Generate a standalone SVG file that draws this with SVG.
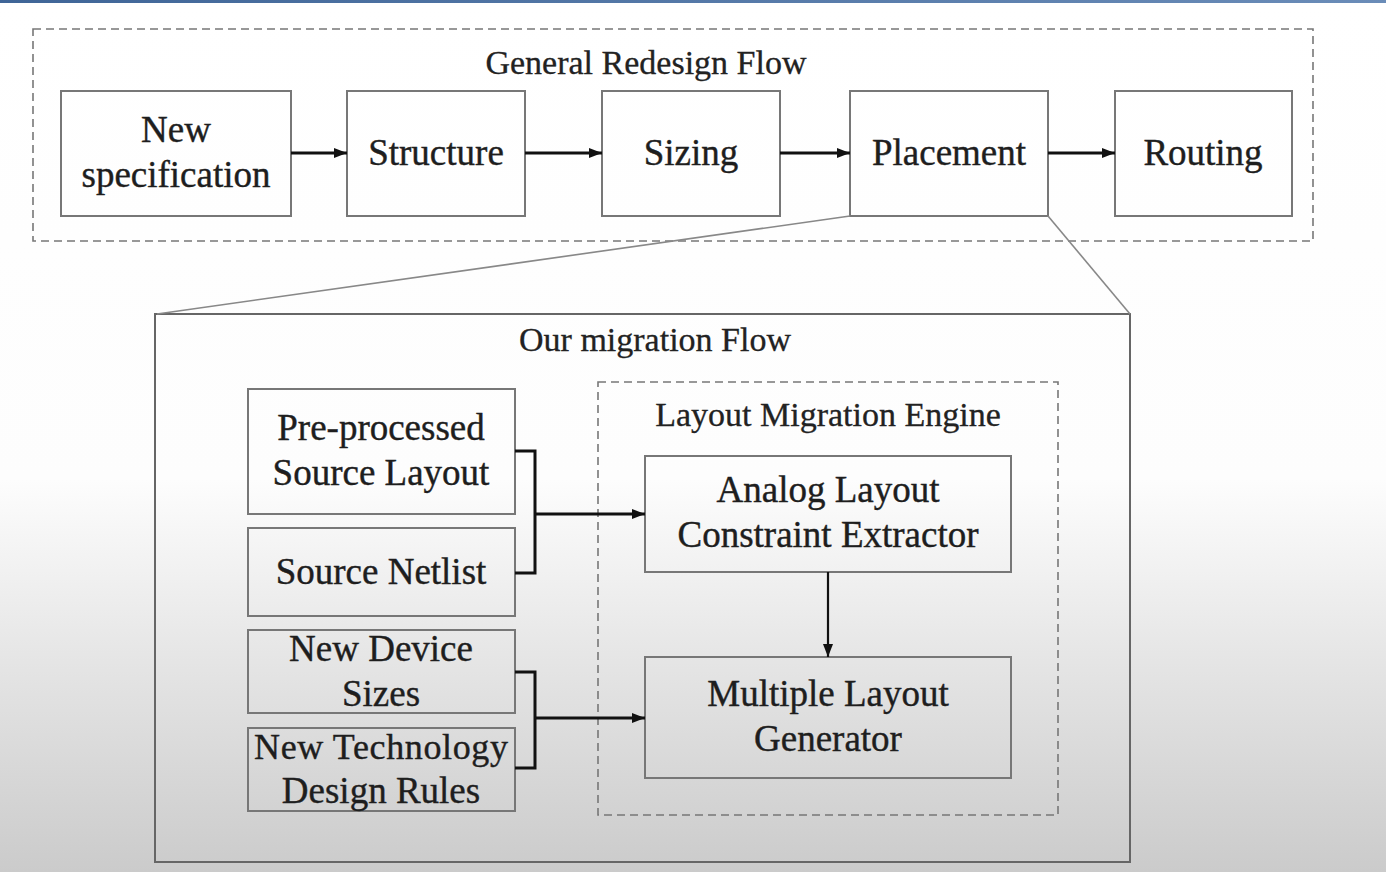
<svg xmlns="http://www.w3.org/2000/svg" width="1386" height="872" viewBox="0 0 1386 872">
<defs>
<linearGradient id="bg" x1="0" y1="0" x2="0" y2="1">
<stop offset="0" stop-color="#ffffff"/>
<stop offset="0.55" stop-color="#fdfdfd"/>
<stop offset="0.75" stop-color="#e6e6e6"/>
<stop offset="1" stop-color="#cbcbcb"/>
</linearGradient>
<linearGradient id="bar" x1="0" y1="0" x2="1" y2="0">
<stop offset="0" stop-color="#3f6597"/>
<stop offset="1" stop-color="#6a8cb8"/>
</linearGradient>
<marker id="ah" viewBox="0 0 13 10" refX="13" refY="5" markerWidth="13" markerHeight="10" markerUnits="userSpaceOnUse" orient="auto">
<path d="M0,0 L13,5 L0,10 Z" fill="#111"/>
</marker>
<style>
.box{fill:none;stroke:#777;stroke-width:2}
.dash{fill:none;stroke:#777;stroke-width:1.6;stroke-dasharray:8,5}
.frame{fill:none;stroke:#666;stroke-width:2}
.t{font-family:"Liberation Serif","Times New Roman",serif;font-size:37px;fill:#1e1e1e;stroke:#1e1e1e;stroke-width:0.4;text-anchor:middle}
.ti{font-family:"Liberation Serif","Times New Roman",serif;font-size:34px;fill:#222;stroke:#222;stroke-width:0.3;text-anchor:middle}
.c{fill:none;stroke:#111;stroke-width:3}
.z{fill:none;stroke:#888;stroke-width:1.6}
</style>
</defs>
<rect x="0" y="0" width="1386" height="872" fill="url(#bg)"/>
<rect x="0" y="0" width="1386" height="3" fill="url(#bar)"/>

<g id="general-redesign-flow">
<rect class="dash" x="33" y="29" width="1280" height="212"/>
<text class="ti" x="646" y="74">General Redesign Flow</text>
</g>
<g id="new-specification">
<rect class="box" x="61" y="91" width="230" height="125"/>
<text class="t" x="176" y="142">New</text>
<text class="t" x="176" y="187">specification</text>
</g>
<g id="structure">
<rect class="box" x="347" y="91" width="178" height="125"/>
<text class="t" x="436" y="165">Structure</text>
</g>
<g id="sizing">
<rect class="box" x="602" y="91" width="178" height="125"/>
<text class="t" x="691" y="165">Sizing</text>
</g>
<g id="placement">
<rect class="box" x="850" y="91" width="198" height="125"/>
<text class="t" x="949" y="165">Placement</text>
</g>
<g id="routing">
<rect class="box" x="1115" y="91" width="177" height="125"/>
<text class="t" x="1203" y="165">Routing</text>
</g>

<g id="our-migration-flow">
<rect class="frame" x="155" y="314" width="975" height="548"/>
<text class="ti" x="655" y="351">Our migration Flow</text>
</g>
<g id="layout-migration-engine">
<rect class="dash" x="598" y="382" width="460" height="433"/>
<text class="ti" x="828" y="426">Layout Migration Engine</text>
</g>
<g id="pre-processed-source-layout">
<rect class="box" x="248" y="389" width="267" height="125"/>
<text class="t" x="381" y="440">Pre-processed</text>
<text class="t" x="381" y="485">Source Layout</text>
</g>
<g id="source-netlist">
<rect class="box" x="248" y="528" width="267" height="88"/>
<text class="t" x="381" y="584">Source Netlist</text>
</g>
<g id="new-device-sizes">
<rect class="box" x="248" y="630" width="267" height="83"/>
<text class="t" x="381" y="661">New Device</text>
<text class="t" x="381" y="706">Sizes</text>
</g>
<g id="new-technology-design-rules">
<rect class="box" x="248" y="728" width="267" height="83"/>
<text class="t" x="381" y="759" style="font-size:36px" textLength="254" lengthAdjust="spacing">New Technology</text>
<text class="t" x="381" y="803">Design Rules</text>
</g>
<g id="analog-layout-constraint-extractor">
<rect class="box" x="645" y="456" width="366" height="116"/>
<text class="t" x="828" y="502">Analog Layout</text>
<text class="t" x="828" y="547">Constraint Extractor</text>
</g>
<g id="multiple-layout-generator">
<rect class="box" x="645" y="657" width="366" height="121"/>
<text class="t" x="828" y="706">Multiple Layout</text>
<text class="t" x="828" y="751">Generator</text>
</g>

<g id="connectors">
<line class="c" x1="291" y1="153" x2="347" y2="153" marker-end="url(#ah)"/>
<line class="c" x1="525" y1="153" x2="602" y2="153" marker-end="url(#ah)"/>
<line class="c" x1="780" y1="153" x2="850" y2="153" marker-end="url(#ah)"/>
<line class="c" x1="1048" y1="153" x2="1115" y2="153" marker-end="url(#ah)"/>
<line class="z" x1="850" y1="216" x2="157" y2="314"/>
<line class="z" x1="1048" y1="216" x2="1130" y2="314"/>
<polyline class="c" points="515,451 535,451 535,573 515,573"/>
<line class="c" x1="535" y1="514" x2="645" y2="514" marker-end="url(#ah)"/>
<polyline class="c" points="515,672 535,672 535,768 515,768"/>
<line class="c" x1="535" y1="718" x2="645" y2="718" marker-end="url(#ah)"/>
<line class="c" x1="828" y1="572" x2="828" y2="657" style="stroke-width:2.2" marker-end="url(#ah)"/>
</g>
</svg>
